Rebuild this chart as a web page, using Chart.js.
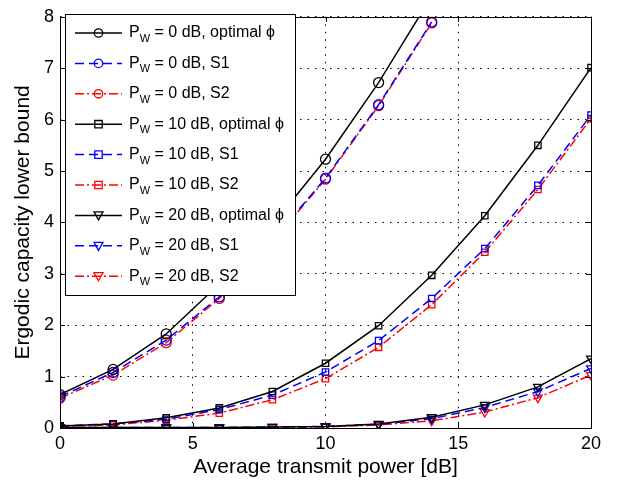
<!DOCTYPE html>
<html>
<head>
<meta charset="utf-8">
<script src="https://cdn.jsdelivr.net/npm/chart.js@4/dist/chart.umd.min.js"></script>
<style>
  html, body { margin: 0; padding: 0; background: #fff; }
  #wrap { width: 618px; height: 480px; }
</style>
</head>
<body>
<div id="wrap"><canvas id="chart" width="618" height="480"></canvas></div>
<script>
// transmit power grid [dB]
const powerDb = [0, 2, 4, 6, 8, 10, 12, 14, 16, 18, 20];

// P_W = 0 dB
const pw0Optimal = [0.65, 1.14, 1.83, 2.8, 3.95, 5.23, 6.72, 8.4];
const pw0S1 = [0.61, 1.08, 1.71, 2.55, 3.65, 4.86, 6.29, 7.9];
const pw0S2 = [0.58, 1.03, 1.66, 2.52, 3.62, 4.84, 6.27, 7.88];

// P_W = 10 dB
const pw10Optimal = [0.04, 0.08, 0.2, 0.39, 0.71, 1.26, 1.99, 2.97, 4.13, 5.5, 7.01];
const pw10S1 = [0.04, 0.08, 0.17, 0.36, 0.64, 1.09, 1.7, 2.52, 3.49, 4.72, 6.09];
const pw10S2 = [0.03, 0.06, 0.15, 0.29, 0.55, 0.96, 1.57, 2.4, 3.42, 4.64, 6.02];

// P_W = 20 dB
const pw20Optimal = [0.01, 0.01, 0.01, 0.01, 0.02, 0.03, 0.08, 0.21, 0.45, 0.8, 1.35];
const pw20S1 = [0.01, 0.01, 0.01, 0.01, 0.02, 0.03, 0.07, 0.18, 0.4, 0.71, 1.16];
const pw20S2 = [0, 0, 0, 0, 0.01, 0.02, 0.06, 0.14, 0.31, 0.59, 1.03];

const legendLabels = [
  '0 dB, optimal \u03D5', '0 dB, S1', '0 dB, S2',
  '10 dB, optimal \u03D5', '10 dB, S1', '10 dB, S2',
  '20 dB, optimal \u03D5', '20 dB, S1', '20 dB, S2'
];

const FONT = '"Liberation Sans", Arial, Helvetica, sans-serif';

const styles = {
  opt: { color: '#000000', dash: [] },
  s1: { color: '#0000ff', dash: [9, 5] },
  s2: { color: '#ff0000', dash: [9, 3, 2, 3] }
};

function toPoints(vals) {
  return vals.map((v, i) => ({ x: powerDb[i], y: v }));
}

function makeSet(vals, kind, marker) {
  const st = styles[kind];
  return {
    data: toPoints(vals),
    borderColor: st.color,
    borderDash: st.dash,
    borderWidth: 1.5,
    pointStyle: marker === 'tri' ? 'triangle' : marker,
    rotation: marker === 'tri' ? 180 : 0,
    pointRadius: marker === 'rect' ? 4.5 : 5,
    pointBorderColor: st.color,
    pointBackgroundColor: 'rgba(0,0,0,0)',
    pointBorderWidth: 1.3,
    tension: 0,
    fill: false,
    _marker: marker
  };
}

const datasets = [
  makeSet(pw0Optimal, 'opt', 'circle'),
  makeSet(pw0S1, 's1', 'circle'),
  makeSet(pw0S2, 's2', 'circle'),
  makeSet(pw10Optimal, 'opt', 'rect'),
  makeSet(pw10S1, 's1', 'rect'),
  makeSet(pw10S2, 's2', 'rect'),
  makeSet(pw20Optimal, 'opt', 'tri'),
  makeSet(pw20S1, 's1', 'tri'),
  makeSet(pw20S2, 's2', 'tri')
];

function drawMarker(ctx, marker, x, y, color) {
  ctx.save();
  ctx.strokeStyle = color;
  ctx.lineWidth = 1.3;
  ctx.setLineDash([]);
  ctx.beginPath();
  if (marker === 'circle') {
    ctx.arc(x, y, 4.2, 0, Math.PI * 2);
  } else if (marker === 'rect') {
    ctx.rect(x - 3.7, y - 3.7, 7.4, 7.4);
  } else {
    ctx.moveTo(x - 4.5, y - 3.5);
    ctx.lineTo(x + 4.5, y - 3.5);
    ctx.lineTo(x, y + 4.5);
    ctx.closePath();
  }
  ctx.stroke();
  ctx.restore();
}

// frame, inward ticks and the boxed legend (matlab look)
const framePlugin = {
  id: 'frame',
  afterDraw(chart) {
    const ctx = chart.ctx;
    const a = chart.chartArea;
    const xs = chart.scales.x, ys = chart.scales.y;
    ctx.save();
    ctx.strokeStyle = '#000';
    ctx.lineWidth = 1;
    ctx.setLineDash([]);
    ctx.strokeRect(Math.round(a.left) + 0.5, Math.round(a.top) + 0.5,
      Math.round(a.right - a.left), Math.round(a.bottom - a.top));
    ctx.beginPath();
    xs.ticks.forEach(t => {
      const px = Math.round(xs.getPixelForValue(t.value)) + 0.5;
      ctx.moveTo(px, a.bottom); ctx.lineTo(px, a.bottom - 5);
      ctx.moveTo(px, a.top); ctx.lineTo(px, a.top + 5);
    });
    ys.ticks.forEach(t => {
      const py = Math.round(ys.getPixelForValue(t.value)) + 0.5;
      ctx.moveTo(a.left, py); ctx.lineTo(a.left + 5, py);
      ctx.moveTo(a.right, py); ctx.lineTo(a.right - 5, py);
    });
    ctx.stroke();

    // legend box
    const bx = 65.5, by = 14.5, bw = 230, bh = 281;
    ctx.fillStyle = '#fff';
    ctx.fillRect(bx, by, bw, bh);
    ctx.strokeRect(bx, by, bw, bh);

    chart.data.datasets.forEach((ds, i) => {
      const y = 33 + i * 30.4;
      ctx.save();
      ctx.strokeStyle = ds.borderColor;
      ctx.lineWidth = 1.5;
      ctx.setLineDash(ds.borderDash);
      ctx.beginPath();
      ctx.moveTo(75, y); ctx.lineTo(122, y);
      ctx.stroke();
      ctx.restore();
      drawMarker(ctx, ds._marker, 98.5, y, ds.borderColor);

      ctx.fillStyle = '#000';
      ctx.textBaseline = 'middle';
      ctx.textAlign = 'left';
      let tx = 129;
      ctx.font = '16px ' + FONT;
      ctx.fillText('P', tx, y);
      tx += ctx.measureText('P').width;
      ctx.font = '11px ' + FONT;
      ctx.fillText('W', tx, y + 6);
      tx += ctx.measureText('W').width;
      ctx.font = '16px ' + FONT;
      ctx.fillText(' = ' + legendLabels[i], tx, y);
    });
    ctx.restore();
  }
};

const ctx = document.getElementById('chart').getContext('2d');
new Chart(ctx, {
  type: 'line',
  data: { datasets: datasets },
  options: {
    responsive: false,
    animation: false,
    layout: { padding: { top: 9, right: 27, left: 0, bottom: 0 } },
    plugins: {
      legend: { display: false },
      tooltip: { enabled: false }
    },
    scales: {
      x: {
        type: 'linear',
        min: 0,
        max: 20,
        ticks: { stepSize: 5, color: '#000', padding: 5, font: { size: 18, family: FONT } },
        grid: { color: '#000', lineWidth: 1, drawTicks: false },
        border: { display: false, dash: [1.5, 6] },
        title: { display: true, text: 'Average transmit power [dB]', color: '#000', font: { size: 21, family: FONT }, padding: { top: 0, bottom: 0 } },
        afterFit(s) { s.height = 52; }
      },
      y: {
        min: 0,
        max: 8,
        ticks: { stepSize: 1, color: '#000', padding: 6, font: { size: 18, family: FONT } },
        grid: { color: '#000', lineWidth: 1, drawTicks: false },
        border: { display: false, dash: [1.5, 6] },
        title: { display: true, text: 'Ergodic capacity lower bound', color: '#000', font: { size: 21, family: FONT }, padding: { top: 11, bottom: 0 } },
        afterFit(s) { s.width = 60; }
      }
    }
  },
  plugins: [framePlugin]
});
</script>
</body>
</html>
